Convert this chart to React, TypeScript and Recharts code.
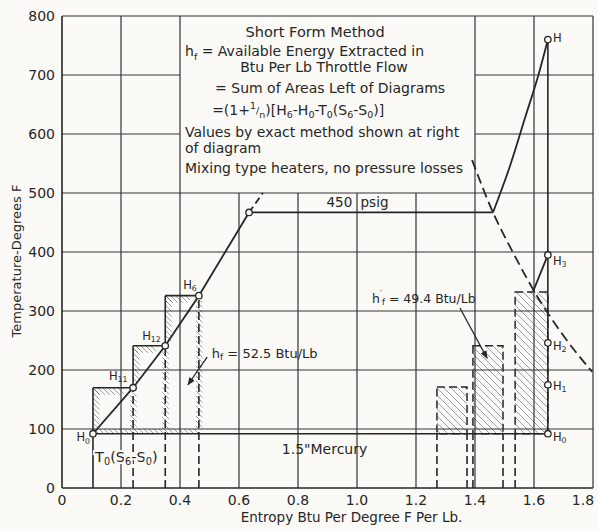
import React from 'react';
import { ComposedChart, XAxis, YAxis, Line, Scatter, ReferenceLine, ReferenceArea } from 'recharts';

const FONT = '"DejaVu Sans", "Liberation Sans", sans-serif';
const INK = '#262626';
const PAPER = '#fbfaf6';

// ---- axes ----
const xTicks = [0, 0.2, 0.4, 0.6, 0.8, 1.0, 1.2, 1.4, 1.6, 1.8];
const yTicks = [0, 100, 200, 300, 400, 500, 600, 700, 800];
// region of the note box (no inner grid)
const boxX = [0.4, 1.4];
const boxY = [500, 800];

// ---- curves ----
const liquidLine = [
  { x: 0.105, y: 92 },
  { x: 0.241, y: 170 },
  { x: 0.35, y: 241 },
  { x: 0.464, y: 326 },
  { x: 0.634, y: 467 },
];
const liquidExt = [
  { x: 0.634, y: 467 },
  { x: 0.681, y: 500 },
];
const boilingLine = [
  { x: 0.634, y: 467 },
  { x: 1.461, y: 467 },
];
const superheatLine = [
  { x: 1.461, y: 467 },
  { x: 1.52, y: 548 },
  { x: 1.57, y: 628 },
  { x: 1.615, y: 700 },
  { x: 1.647, y: 760 },
];
const vaporLine = [
  { x: 1.39, y: 556 },
  { x: 1.461, y: 467 },
  { x: 1.53, y: 398 },
  { x: 1.6, y: 334 },
  { x: 1.7, y: 258 },
  { x: 1.797, y: 197 },
];
const expansionLine = [
  { x: 1.647, y: 395 },
  { x: 1.597, y: 333 },
];
const throttleLine = [
  { x: 1.647, y: 92 },
  { x: 1.647, y: 760 },
];
const condenserLine = [
  { x: 0.105, y: 92 },
  { x: 1.647, y: 92 },
];
const arrowA = [
  { x: 0.492, y: 222 },
  { x: 0.427, y: 175 },
];
const arrowB = [
  { x: 1.349, y: 305 },
  { x: 1.441, y: 220 },
];

// ---- heater blocks ----
const t0 = 92;
const leftBlocks = [
  { x1: 0.105, x2: 0.241, top: 170 },
  { x1: 0.241, x2: 0.35, top: 241 },
  { x1: 0.35, x2: 0.464, top: 326 },
];
const rightBlocks = [
  { x1: 1.271, x2: 1.373, top: 171 },
  { x1: 1.393, x2: 1.495, top: 241 },
  { x1: 1.536, x2: 1.647, top: 332 },
];

// ---- state points ----
const statePoints = [
  { x: 0.105, y: 92 },
  { x: 0.241, y: 170 },
  { x: 0.35, y: 241 },
  { x: 0.464, y: 326 },
  { x: 0.634, y: 467 },
  { x: 1.647, y: 760 },
  { x: 1.647, y: 395 },
  { x: 1.647, y: 246 },
  { x: 1.647, y: 175 },
  { x: 1.647, y: 92 },
];

// ---- text ----
type Part = string | [string, 'sub' | 'sup' | 'small'];
const notes: { x: number; y: number; anchor: 'start' | 'middle' | 'end'; size: number; halo?: boolean; parts: Part[] }[] = [
  { x: 0.858, y: 773, anchor: 'middle', size: 14.5, parts: ['Short Form Method'] },
  { x: 0.417, y: 740, anchor: 'start', size: 14, parts: ['h', ['f', 'sub'], ' = Available Energy Extracted in'] },
  { x: 0.888, y: 714, anchor: 'middle', size: 14, parts: ['Btu Per Lb Throttle Flow'] },
  { x: 0.519, y: 678, anchor: 'start', size: 14, parts: ['= Sum of Areas Left of Diagrams'] },
  {
    x: 0.509, y: 641, anchor: 'start', size: 14,
    parts: ['=(1+', ['1', 'sup'], ['/', 'small'], ['n', 'sub'], ')[H', ['6', 'sub'], '-H', ['0', 'sub'], '-T', ['0', 'sub'], '(S', ['6', 'sub'], '-S', ['0', 'sub'], ')]'],
  },
  { x: 0.417, y: 604, anchor: 'start', size: 14, parts: ['Values by exact method shown at right'] },
  { x: 0.417, y: 576, anchor: 'start', size: 14, parts: ['of diagram'] },
  { x: 0.417, y: 543, anchor: 'start', size: 14, parts: ['Mixing type heaters, no pressure losses'] },
  { x: 0.984, y: 484, anchor: 'end', size: 13.5, parts: ['450'] },
  { x: 1.012, y: 484, anchor: 'start', size: 13.5, parts: ['psig'] },
  { x: 0.89, y: 66, anchor: 'middle', size: 14, parts: ['1.5"Mercury'] },
  { x: 0.112, y: 53, anchor: 'start', size: 14.5, halo: true, parts: ['T', ['0', 'sub'], '(S', ['6', 'sub'], '-S', ['0', 'sub'], ')'] },
  { x: 0.508, y: 229, anchor: 'start', size: 13, parts: ['h', ['f', 'sub'], ' = 52.5 Btu/Lb'] },
  { x: 1.051, y: 322, anchor: 'start', size: 12.5, parts: ['h', ['\u2032', 'sup'], ['f', 'sub'], ' = 49.4 Btu/Lb'] },
  { x: 0.095, y: 86, anchor: 'end', size: 11.5, parts: ['H', ['0', 'sub']] },
  { x: 0.222, y: 190, anchor: 'end', size: 11.5, parts: ['H', ['11', 'sub']] },
  { x: 0.335, y: 258, anchor: 'end', size: 11.5, parts: ['H', ['12', 'sub']] },
  { x: 0.457, y: 344, anchor: 'end', size: 11.5, parts: ['H', ['6', 'sub']] },
  { x: 1.664, y: 763, anchor: 'start', size: 11.5, parts: ['H'] },
  { x: 1.664, y: 385, anchor: 'start', size: 11.5, parts: ['H', ['3', 'sub']] },
  { x: 1.664, y: 241, anchor: 'start', size: 11.5, parts: ['H', ['2', 'sub']] },
  { x: 1.664, y: 173, anchor: 'start', size: 11.5, parts: ['H', ['1', 'sub']] },
  { x: 1.664, y: 87, anchor: 'start', size: 11.5, parts: ['H', ['0', 'sub']] },
];

const yTitle = 'Temperature-Degrees F';
const xTitle = 'Entropy Btu Per Degree F Per Lb.';

function richParts(parts: Part[], size: number) {
  let shift = 0;
  return parts.map((p, i) => {
    const txt = typeof p === 'string' ? p : p[0];
    const kind = typeof p === 'string' ? 'n' : p[1];
    const target = kind === 'sub' ? size * 0.3 : kind === 'sup' ? -size * 0.35 : 0;
    const dy = target - shift;
    shift = target;
    return (
      <tspan key={i} dy={dy} fontSize={kind === 'n' ? size : size * 0.68}>
        {txt}
      </tspan>
    );
  });
}

const NoteShape = (props: any) => {
  const n = props.payload;
  if (props.cx == null || props.cy == null) return null;
  const halo = n.halo ? { stroke: PAPER, strokeWidth: 4, paintOrder: 'stroke' as const } : {};
  return (
    <text
      x={props.cx}
      y={props.cy}
      textAnchor={n.anchor}
      dominantBaseline="central"
      fontFamily={FONT}
      fill={INK}
      fontSize={n.size}
      {...halo}
    >
      {richParts(n.parts, n.size)}
    </text>
  );
};

const DotShape = (props: any) => {
  if (props.cx == null || props.cy == null) return null;
  return <circle cx={props.cx} cy={props.cy} r={3.2} fill={PAPER} stroke={INK} strokeWidth={1.3} />;
};

const XTick = (props: any) => {
  const { x, y, payload } = props;
  const v = payload.value;
  const label = v === 0 ? '0' : v.toFixed(1);
  const last = Math.abs(v - 1.8) < 1e-6;
  return (
    <text x={last ? x - 5 : x} y={y} dy="0.71em" textAnchor="middle" fill={INK} fontSize={14} fontFamily={FONT}>
      {label}
    </text>
  );
};

const YTitle = (props: any) => {
  const vb = props.viewBox || { x: 0, y: 8, width: 54, height: 472 };
  const cx = vb.x + 8;
  const cy = vb.y + vb.height / 2 + 9;
  return (
    <text x={cx} y={cy} transform={`rotate(-90 ${cx} ${cy})`} textAnchor="middle" dominantBaseline="central" fontFamily={FONT} fontSize={13} fill={INK}>
      {yTitle}
    </text>
  );
};

const XTitle = (props: any) => {
  const vb = props.viewBox || { x: 54, y: 480, width: 531, height: 43 };
  const cx = vb.x + vb.width / 2 + 24;
  const cy = vb.y + 29;
  return (
    <text x={cx} y={cy} textAnchor="middle" dominantBaseline="central" fontFamily={FONT} fontSize={13.5} fill={INK}>
      {xTitle}
    </text>
  );
};

// grid segments with cut-out for the note box
const eps = 1e-6;
const gridSegments: { a: { x: number; y: number }; b: { x: number; y: number } }[] = [];
xTicks.forEach((x) => {
  if (x <= eps || x >= 1.8 - eps) return;
  const inBox = x > boxX[0] + eps && x < boxX[1] - eps;
  gridSegments.push({ a: { x, y: 0 }, b: { x, y: inBox ? boxY[0] : 800 } });
});
yTicks.forEach((y) => {
  if (y <= eps || y >= 800 - eps) return;
  if (y > boxY[0] + eps) {
    gridSegments.push({ a: { x: 0, y }, b: { x: boxX[0], y } });
    gridSegments.push({ a: { x: boxX[1], y }, b: { x: 1.8, y } });
  } else {
    gridSegments.push({ a: { x: 0, y }, b: { x: 1.8, y } });
  }
});
gridSegments.push({ a: { x: 0, y: 800 }, b: { x: 1.8, y: 800 } });
gridSegments.push({ a: { x: 1.8, y: 0 }, b: { x: 1.8, y: 800 } });

const lineAt = (x: number) => {
  for (let i = 0; i < liquidLine.length - 1; i++) {
    const p = liquidLine[i];
    const q = liquidLine[i + 1];
    if (x >= p.x - eps && x <= q.x + eps) return p.y + ((x - p.x) * (q.y - p.y)) / (q.x - p.x);
  }
  return liquidLine[0].y;
};

export default function App() {
  const seg = (a: any, b: any, key: string, style: any) => (
    <ReferenceLine key={key} segment={[a, b]} ifOverflow="visible" {...style} />
  );
  const gridStyle = { stroke: '#333', strokeWidth: 1.2 };
  const solid = { stroke: INK, strokeWidth: 1.6 };
  const dashed = { stroke: INK, strokeWidth: 1.6, strokeDasharray: '8 4' };

  const leftEls: any[] = [];
  leftBlocks.forEach((b, i) => {
    const bottomOfLeft = i === 0 ? 0 : leftBlocks[i - 1].top;
    leftEls.push(seg({ x: b.x1, y: bottomOfLeft }, { x: b.x1, y: b.top }, `lbL${i}`, solid));
    leftEls.push(seg({ x: b.x1, y: b.top }, { x: b.x2, y: b.top }, `lbT${i}`, solid));
    leftEls.push(seg({ x: b.x2, y: 0 }, { x: b.x2, y: b.top }, `lbR${i}`, dashed));
  });

  const leftHatch: any[] = [];
  leftBlocks.forEach((b, i) => {
    leftHatch.push(
      <ReferenceArea key={`hl${i}`} x1={b.x1} x2={b.x1 + 0.022} y1={lineAt(b.x1) + 8} y2={b.top} fill="url(#hatchEdge)" stroke="none" ifOverflow="visible" />
    );
    leftHatch.push(
      <ReferenceArea key={`ht${i}`} x1={b.x1} x2={b.x2 - 0.03} y1={b.top - 12} y2={b.top} fill="url(#hatchEdge)" stroke="none" ifOverflow="visible" />
    );
    leftHatch.push(
      <ReferenceArea key={`hr${i}`} x1={b.x2 - 0.01} x2={b.x2 + 0.012} y1={t0 + 8} y2={b.top - 8} fill="url(#hatchEdge)" stroke="none" ifOverflow="visible" />
    );
  });

  const rightEls: any[] = [];
  rightBlocks.forEach((b, i) => {
    rightEls.push(
      <ReferenceArea key={`rb${i}`} x1={b.x1} x2={b.x2} y1={t0} y2={b.top} fill="url(#hatch)" stroke={INK} strokeWidth={1.5} strokeDasharray="8 4" ifOverflow="visible" />
    );
    rightEls.push(seg({ x: b.x1, y: 0 }, { x: b.x1, y: t0 }, `rbl${i}`, dashed));
    if (b.x2 < 1.64) rightEls.push(seg({ x: b.x2, y: 0 }, { x: b.x2, y: t0 }, `rbr${i}`, dashed));
  });

  const lineProps = { dataKey: 'y', dot: false, isAnimationActive: false, activeDot: false, legendType: 'none' as const };

  return (
    <div style={{ position: 'absolute', left: 0, top: 0, width: 598, height: 531, background: PAPER }}>
      <div style={{ position: 'absolute', left: 8, top: 8 }}>
        <ComposedChart width={590} height={523} margin={{ top: 8, right: 5, bottom: 0, left: 0 }}>
          <defs>
            <pattern id="hatch" patternUnits="userSpaceOnUse" width="7" height="7">
              <path d="M-1,-1 L8,8 M-1,6 L1,8 M6,-1 L8,1" stroke="#333" strokeWidth="0.9" />
            </pattern>
            <pattern id="hatchEdge" patternUnits="userSpaceOnUse" width="5" height="5">
              <path d="M-1,-1 L6,6 M-1,4 L1,6 M4,-1 L6,1" stroke="#333" strokeWidth="0.9" />
            </pattern>
            <marker id="arr" viewBox="0 0 10 10" refX="9" refY="5" markerWidth="8" markerHeight="8" orient="auto" markerUnits="userSpaceOnUse">
              <path d="M0,1 L10,5 L0,9 z" fill={INK} />
            </marker>
          </defs>
          <XAxis
            type="number"
            dataKey="x"
            domain={[0, 1.8]}
            ticks={xTicks}
            tickLine={false}
            tickSize={0}
            tickMargin={7}
            height={43}
            axisLine={{ stroke: INK, strokeWidth: 1.6 }}
            tick={XTick}
            label={XTitle}
          />
          <YAxis
            type="number"
            dataKey="y"
            domain={[0, 800]}
            ticks={yTicks}
            tickLine={false}
            tickSize={0}
            tickMargin={7}
            width={54}
            axisLine={{ stroke: INK, strokeWidth: 1.6 }}
            tick={{ fill: INK, fontSize: 14, fontFamily: FONT }}
            label={YTitle}
          />
          {gridSegments.map((g, i) => seg(g.a, g.b, `g${i}`, gridStyle))}
          <ReferenceArea x1={leftBlocks[0].x1} x2={leftBlocks[2].x2} y1={t0} y2={100} fill="url(#hatchEdge)" stroke="none" />
          {leftHatch}
          {rightEls}
          {leftEls}
          <Line data={condenserLine} {...lineProps} stroke={INK} strokeWidth={1.6} />
          <Line data={throttleLine} {...lineProps} stroke={INK} strokeWidth={1.6} />
          <Line data={liquidLine} {...lineProps} stroke={INK} strokeWidth={1.8} />
          <Line data={liquidExt} {...lineProps} stroke={INK} strokeWidth={1.8} strokeDasharray="7 4" />
          <Line data={boilingLine} {...lineProps} stroke={INK} strokeWidth={1.8} />
          <Line data={superheatLine} {...lineProps} type="monotone" stroke={INK} strokeWidth={1.8} />
          <Line data={vaporLine} {...lineProps} type="monotone" stroke={INK} strokeWidth={1.8} strokeDasharray="10 5" />
          <Line data={expansionLine} {...lineProps} stroke={INK} strokeWidth={1.8} />
          <Line data={arrowA} {...lineProps} stroke={INK} strokeWidth={1.3} markerEnd="url(#arr)" />
          <Line data={arrowB} {...lineProps} stroke={INK} strokeWidth={1.3} markerEnd="url(#arr)" />
          <Scatter data={statePoints} dataKey="y" shape={DotShape} isAnimationActive={false} legendType="none" />
          <Scatter data={notes} dataKey="y" shape={NoteShape} isAnimationActive={false} legendType="none" />
        </ComposedChart>
      </div>
    </div>
  );
}
